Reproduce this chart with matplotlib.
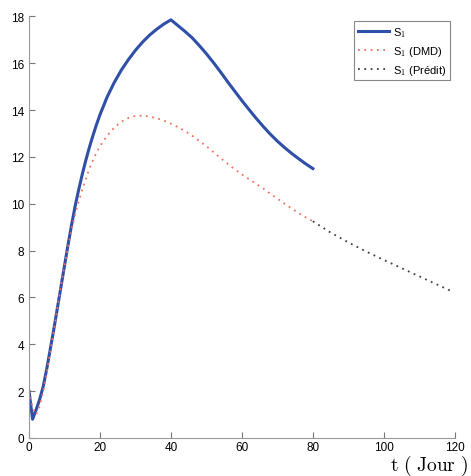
import matplotlib
matplotlib.use('Agg')
import matplotlib.pyplot as plt

# S1 observe
t_obs = [0, 1, 2, 3, 4, 5, 6, 7, 8, 9, 10, 11, 12, 13, 14, 15, 16, 17, 18, 19, 20, 22, 24, 26,
         28, 30, 32, 34, 36, 38, 40, 42, 44, 46, 48, 50, 52, 54, 56, 58, 60, 62, 64, 66, 68,
         70, 72, 74, 76, 78, 80]
s_obs = [2.0, 0.8, 1.2, 1.65, 2.2, 2.95, 3.8, 4.65, 5.55, 6.45, 7.35, 8.25, 9.1, 9.9, 10.6,
         11.25, 11.85, 12.4, 12.9, 13.37, 13.8, 14.55, 15.17, 15.7, 16.15, 16.55, 16.9,
         17.2, 17.45, 17.67, 17.85, 17.6, 17.35, 17.08, 16.75, 16.4, 16.02, 15.62, 15.2,
         14.8, 14.4, 14.02, 13.65, 13.3, 12.97, 12.67, 12.4, 12.15, 11.92, 11.7, 11.5]

# S1 reconstruit (DMD)
t_dmd = [0, 1, 2, 3, 4, 5, 6, 7, 8, 9, 10, 11, 12, 13, 14, 15, 16, 17, 18, 19, 20, 22, 24, 26,
         28, 30, 32, 34, 36, 38, 40, 42, 44, 46, 48, 50, 52, 54, 56, 58, 60, 62, 64, 66, 68,
         70, 72, 74, 76, 78, 80]
s_dmd = [2.0, 1.3, 1.0, 1.35, 2.0, 2.8, 3.7, 4.6, 5.55, 6.5, 7.35, 8.15, 8.9, 9.55, 10.1,
         10.6, 11.05, 11.5, 11.85, 12.18, 12.46, 12.9, 13.25, 13.5, 13.66, 13.75, 13.76,
         13.72, 13.65, 13.55, 13.42, 13.27, 13.1, 12.9, 12.68, 12.45, 12.2, 11.95, 11.7,
         11.47, 11.25, 11.05, 10.85, 10.65, 10.43, 10.22, 10.0, 9.8, 9.6, 9.42, 9.25]

# S1 predit
t_pred = [80, 85, 90, 95, 100, 105, 110, 115, 118.6]
s_pred = [9.25, 8.77, 8.35, 7.96, 7.6, 7.25, 6.9, 6.55, 6.3]

plt.rcParams['mathtext.fontset'] = 'cm'
plt.rcParams['font.family'] = ['Liberation Sans', 'DejaVu Sans']

fig = plt.figure(figsize=(4.71, 4.77), dpi=100)
ax = fig.add_axes([0.0616, 0.0797, 0.904, 0.884])

ax.plot(t_obs, s_obs, color='#2f4fa8', lw=2.2, label='S$_\\mathsf{1}$')
ax.plot(t_dmd, s_dmd, color='#f2705f', lw=1.3, ls=(0, (1, 2.5)), label='S$_\\mathsf{1}$ (DMD)')
ax.plot(t_pred, s_pred, color='#404040', lw=1.3, ls=(0, (1, 2.5)), label='S$_\\mathsf{1}$ (Prédit)')

ax.set_xlim(0, 120)
ax.set_ylim(0, 18)
ax.set_xticks([0, 20, 40, 60, 80, 100, 120])
ax.set_yticks([0, 2, 4, 6, 8, 10, 12, 14, 16, 18])
for s in ['top', 'right']:
    ax.spines[s].set_visible(False)
for s in ['left', 'bottom']:
    ax.spines[s].set_color('#999999')
ax.tick_params(direction='in', length=4, color='#777777', labelsize=8.5)
ax.tick_params(axis='x', pad=2)

leg = ax.legend(loc='upper right', bbox_to_anchor=(1.0, 1.0), fontsize=8,
                fancybox=False, framealpha=1, edgecolor='#888888', handlelength=2.8,
                handletextpad=0.4, borderpad=0.35, labelspacing=0.45, borderaxespad=0.4)
leg.get_frame().set_linewidth(0.8)

fig.text(0.993, 0.012, r'$\mathrm{t\ (\ Jour\ )}$', ha='right', va='baseline', fontsize=14)

fig.savefig('out.png', dpi=100)
